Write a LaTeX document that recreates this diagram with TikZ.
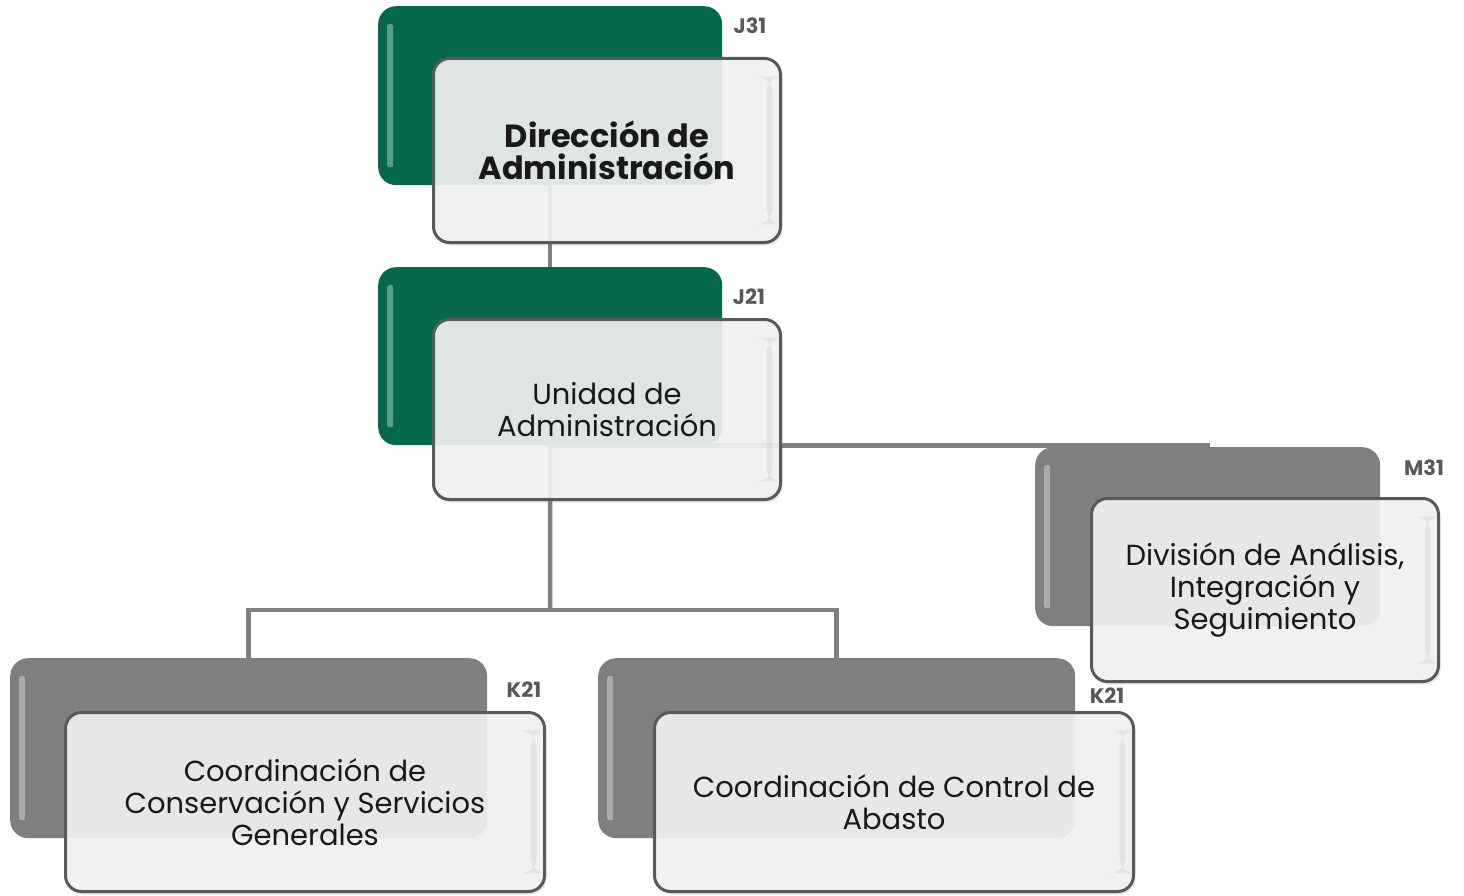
\documentclass[tikz,border=0pt]{standalone}
\usepackage{fontspec}
\setmainfont{Poppins}
\usetikzlibrary{backgrounds,shadows}

\definecolor{verde}{HTML}{05684D}
\definecolor{gris}{HTML}{7F7F7F}
\definecolor{borde}{HTML}{595959}
\definecolor{relleno}{HTML}{F3F3F3}
\definecolor{linea}{HTML}{808080}

\begin{document}
\begin{tikzpicture}[x=1pt,y=-1pt]
 % frame
  \useasboundingbox (0,0) rectangle (1464,896);

  \tikzset{backbox/.style={rounded corners=18pt,anchor=north west,inner sep=0pt,
             path picture={\fill[white,opacity=0.35,rounded corners=2pt]
               ([xshift=9pt,yshift=-18pt]path picture bounding box.north west) rectangle
               ([xshift=15pt,yshift=18pt]path picture bounding box.south west);}},
           greenbox/.style={backbox,fill=verde},
           graybox/.style={backbox,fill=gris},
           frontbox/.style={rounded corners=16pt,anchor=north west,inner sep=0pt,
             draw=borde,line width=3pt,fill=relleno,fill opacity=0.9,text opacity=1,
             align=center,font=\fontsize{29}{32}\selectfont,text=black!90,
             drop shadow={shadow xshift=2pt,shadow yshift=-3pt,opacity=0.2},
             path picture={\fill[black,opacity=0.05]
               ([xshift=-14pt,yshift=-18pt]path picture bounding box.north east) rectangle
               ([xshift=-8pt,yshift=18pt]path picture bounding box.south east);}},
           clave/.style={font=\bfseries\fontsize{21}{24}\selectfont,text=borde,inner sep=0pt},
           conn/.style={draw=linea,line width=4.5pt}}

 % direccion
  \node[greenbox,minimum width=344,minimum height=179] (dirB) at (378,6) {};
  \node[frontbox,minimum width=347,minimum height=184] (dirF) at (432,57)
    {\bfseries\fontsize{32}{34}\selectfont Dirección de\\ \bfseries\fontsize{32}{34}\selectfont Administración};
  \node[clave] (dirK) at (750,26) {J31};

 % unidad
  \node[greenbox,minimum width=344,minimum height=178] (uniB) at (378,267) {};
  \node[frontbox,minimum width=347,minimum height=180] (uniF) at (432,318)
    {Unidad de\\Administración};
  \node[clave] (uniK) at (749,297) {J21};

 % division
  \node[graybox,minimum width=345,minimum height=179] (anaB) at (1035,447) {};
  \node[frontbox,minimum width=347,minimum height=183] (anaF) at (1090,497)
    {División de Análisis,\\Integración y\\Seguimiento};
  \node[clave] (anaK) at (1424,468) {M31};

 % coordinaciones
  \node[graybox,minimum width=477,minimum height=180] (consB) at (10,658) {};
  \node[frontbox,minimum width=479,minimum height=179] (consF) at (64,711)
    {Coordinación de\\Conservación y Servicios\\Generales};
  \node[clave] (consK) at (524,690) {K21};

  \node[graybox,minimum width=477,minimum height=180] (abaB) at (598,658) {};
  \node[frontbox,minimum width=479,minimum height=179] (abaF) at (653,711)
    {Coordinación de Control de\\Abasto};
  \node[clave] (abaK) at (1107,696) {K21};

 % connectors
  \coordinate (split) at (550,610);
  \begin{scope}[on background layer]
    \draw[conn] (dirB.center) -- (uniB.center);
    \draw[conn] (uniB.south) -| (anaB.north);
    \draw[conn] (uniB.center) -- (split);
    \draw[conn] (split) -| (consB.north);
    \draw[conn] (split) -| (abaB.north);
  \end{scope}
\end{tikzpicture}
\end{document}
